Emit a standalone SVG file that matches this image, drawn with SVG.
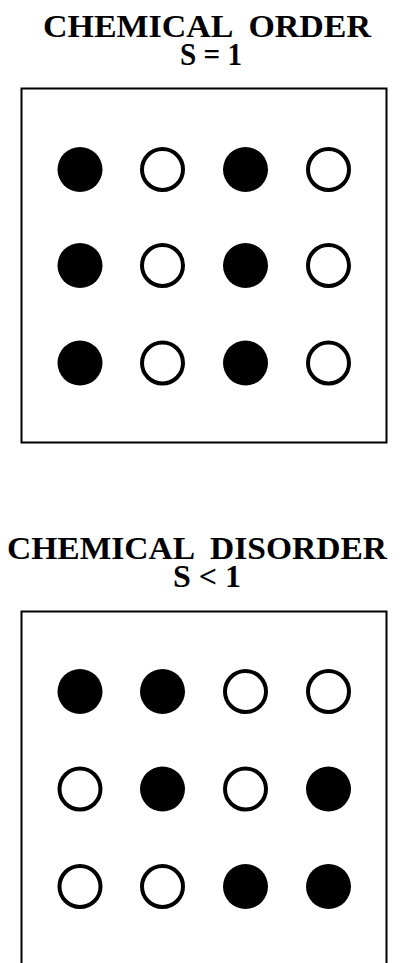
<svg xmlns="http://www.w3.org/2000/svg" width="401" height="963" viewBox="0 0 401 963">
<style>
.t{font-family:"Liberation Serif","Times New Roman",serif;font-weight:bold;font-size:31px;fill:#000;white-space:pre}
.box{fill:none;stroke:#000;stroke-width:2}
.f{fill:#000}
.o{fill:#fff;stroke:#000;stroke-width:4}
</style>
<rect width="401" height="963" fill="#fff"/>
<g id="panel-order">
<text class="t" x="43" y="36.5" textLength="328" lengthAdjust="spacingAndGlyphs" xml:space="preserve">CHEMICAL  ORDER</text>
<text class="t" x="180" y="64.5" textLength="62" lengthAdjust="spacingAndGlyphs">S = 1</text>
<rect class="box" x="21.5" y="88.5" width="365" height="354"/>
<circle class="f" cx="80" cy="169.5" r="22.5"/>
<circle class="o" cx="162.5" cy="169.5" r="20.5"/>
<circle class="f" cx="245.5" cy="169.5" r="22.5"/>
<circle class="o" cx="328.5" cy="169.5" r="20.5"/>
<circle class="f" cx="80" cy="265.5" r="22.5"/>
<circle class="o" cx="162.5" cy="265.5" r="20.5"/>
<circle class="f" cx="245.5" cy="265.5" r="22.5"/>
<circle class="o" cx="328.5" cy="265.5" r="20.5"/>
<circle class="f" cx="80" cy="363" r="22.5"/>
<circle class="o" cx="162.5" cy="363" r="20.5"/>
<circle class="f" cx="245.5" cy="363" r="22.5"/>
<circle class="o" cx="328.5" cy="363" r="20.5"/>
</g>
<g id="panel-disorder">
<text class="t" x="7" y="559" textLength="380" lengthAdjust="spacingAndGlyphs" xml:space="preserve">CHEMICAL  DISORDER</text>
<text class="t" x="173" y="586.5" textLength="68" lengthAdjust="spacingAndGlyphs">S &lt; 1</text>
<path class="box" d="M21.5 963 V611.5 H386.5 V963"/>
<circle class="f" cx="80" cy="691.5" r="22.5"/>
<circle class="f" cx="162.5" cy="691.5" r="22.5"/>
<circle class="o" cx="245.5" cy="691.5" r="20.5"/>
<circle class="o" cx="328.5" cy="691.5" r="20.5"/>
<circle class="o" cx="80" cy="789" r="20.5"/>
<circle class="f" cx="162.5" cy="789" r="22.5"/>
<circle class="o" cx="245.5" cy="789" r="20.5"/>
<circle class="f" cx="328.5" cy="789" r="22.5"/>
<circle class="o" cx="80" cy="886.5" r="20.5"/>
<circle class="o" cx="162.5" cy="886.5" r="20.5"/>
<circle class="f" cx="245.5" cy="886.5" r="22.5"/>
<circle class="f" cx="328.5" cy="886.5" r="22.5"/>
</g>
</svg>
